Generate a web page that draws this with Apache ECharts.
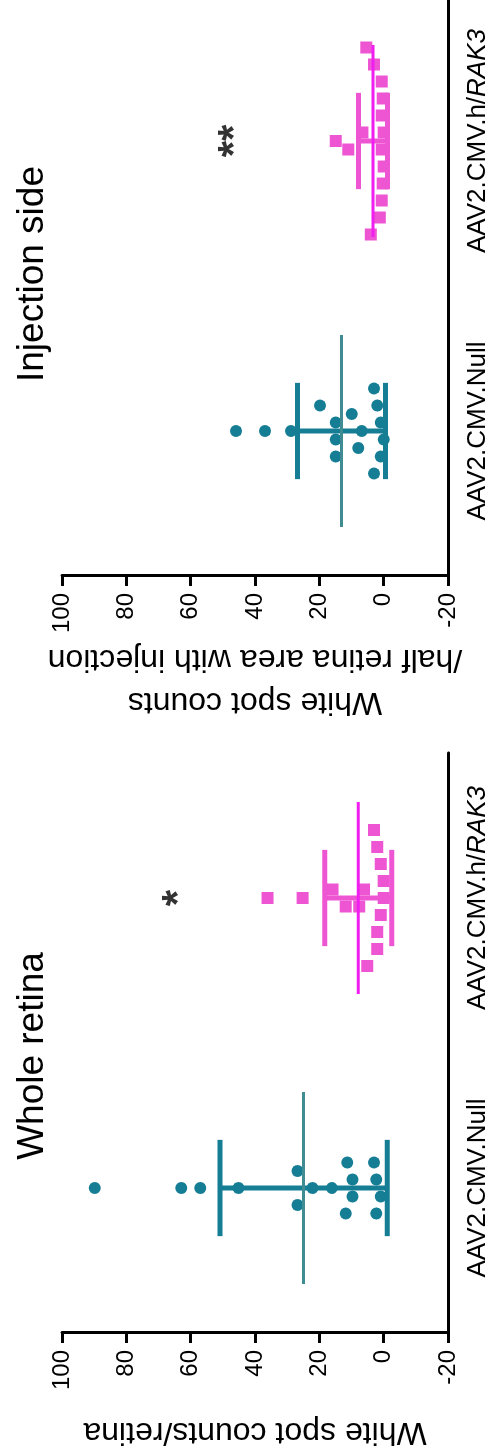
<!DOCTYPE html>
<html>
<head>
<meta charset="utf-8">
<script src="https://cdn.jsdelivr.net/npm/echarts/dist/echarts.min.js"></script>
<style>
html, body { margin: 0; padding: 0; background: #fff; }
#page { position: relative; width: 492px; height: 1456px; overflow: hidden; }
/* the figure is drawn the normal way and then turned a quarter left */
#chart { position: absolute; left: 0; top: 0; width: 1456px; height: 492px;
         transform-origin: 0 0; transform: translateY(1456px) rotate(-90deg); }
</style>
</head>
<body>
<div id="page"><div id="chart"></div></div>
<script>
var groups = ['AAV2.CMV.Null', 'AAV2.CMV.h/RAK3'];
var yTicks = [-20, 0, 20, 40, 60, 80, 100];
var panelTitles = ['Whole retina', 'Injection side'];
var yNames = ['White spot counts/retina', 'White spot counts\n/half retina area with injection'];

// white spot counts per eye (order inside a dot row = left to right)
var wholeNull = [89.8, 62.9, 57.0, 45.1, 26.8, 22.1, 26.8, 16.1, 11.8, 9.7, 9.7, 11.3, 2.3, 0.9, 2.3, 3.0];
var wholeRak3 = [36.1, 25.2, 11.8, 15.9, 7.6, 6.1, 5.1, 2.0, 2.0, 0.9, 0, 0, 0.9, 2.0, 3.0];
var injNull = [45.9, 36.9, 28.8, 14.9, 14.9, 14.9, 19.8, 7.9, 6.8, 9.9, 3.0, 0.9, 0, 0.9, 2.0, 3.0];
var injRak3 = [14.9, 11.0, 6.6, 4.0, 1.2, 0.6, 0.3, 0, 0.6, 0, 0.6, 0.3, 0.6, 3.0, 5.4];

// mean and SD per group
var wholeMean = [24.9, 7.9];
var wholeSd = [26.0, 10.4];
var injMean = [13.1, 3.3];
var injSd = [13.7, 4.5];

var starText = ['*', '**'];
var starValue = [66.9, 49.5];

var FONT = '"Liberation Sans", Arial, Helvetica, sans-serif';
var TEAL = '#157d94', TEAL_MEAN = '#3f8c92';
var PINK = '#ee55d2', PINK_MEAN = '#f01ef0';
var DOT_STEP = 17 / 290;   // dot spacing in category units
var ROW_SPAN = 5.5;        // values closer than this share a dot row

// simple column scatter: values in the same row are spread side by side
function swarm(values) {
  var idx = values.map(function (v, i) { return i; });
  idx.sort(function (a, b) { return values[a] - values[b] || a - b; });
  var rows = [], cur = null;
  idx.forEach(function (i) {
    if (!cur || values[i] - cur.start > ROW_SPAN) {
      cur = { start: values[i], members: [] };
      rows.push(cur);
    }
    cur.members.push(i);
  });
  var offs = [];
  rows.forEach(function (r) {
    r.members.sort(function (a, b) { return a - b; });
    var n = r.members.length;
    r.members.forEach(function (i, k) { offs[i] = (k - (n - 1) / 2) * DOT_STEP; });
  });
  return offs;
}

function summaryItem(params, api) {
  var c = api.value(0), m = api.value(1), s = api.value(2);
  var bw = api.size([1, 0])[0];
  var mid = api.coord([c, m]), hi = api.coord([c, m + s]), lo = api.coord([c, m - s]);
  var col = c === 0 ? TEAL : PINK;
  var mcol = c === 0 ? TEAL_MEAN : PINK_MEAN;
  var capW = bw * 0.166, meanW = bw * 0.331;
  return {
    type: 'group',
    children: [
      { type: 'line', shape: { x1: mid[0], y1: hi[1], x2: mid[0], y2: lo[1] }, style: { stroke: col, lineWidth: 5 } },
      { type: 'line', shape: { x1: mid[0] - capW, y1: hi[1], x2: mid[0] + capW, y2: hi[1] }, style: { stroke: col, lineWidth: 5 } },
      { type: 'line', shape: { x1: mid[0] - capW, y1: lo[1], x2: mid[0] + capW, y2: lo[1] }, style: { stroke: col, lineWidth: 5 } },
      { type: 'line', shape: { x1: mid[0] - meanW, y1: mid[1], x2: mid[0] + meanW, y2: mid[1] }, style: { stroke: mcol, lineWidth: 3 } }
    ]
  };
}

var panels = [
  { left: 123, titleX: 400, nameGap: 77, sets: [wholeNull, wholeRak3], mean: wholeMean, sd: wholeSd },
  { left: 880, titleX: 1182, nameGap: 61, sets: [injNull, injRak3], mean: injMean, sd: injSd }
];

var grid = [], xAxis = [], yAxis = [], series = [], graphic = [];

panels.forEach(function (p, k) {
  grid.push({ left: p.left, top: 62, width: 580, height: 386, outerBoundsMode: 'none' });

  xAxis.push({
    type: 'category', gridIndex: k, data: groups,
    axisLine: { onZero: false, lineStyle: { color: '#000', width: 3 } },
    axisTick: { alignWithLabel: true, length: 10, lineStyle: { color: '#000', width: 3 } },
    axisLabel: {
      interval: 0, hideOverlap: false,
      margin: 17, color: '#000', fontSize: 26, fontFamily: FONT,
      formatter: function (v) { return v.replace('RAK3', '{i|RAK3}'); },
      rich: { i: { fontStyle: 'italic', fontSize: 26, fontFamily: FONT, color: '#000' } }
    },
    splitLine: { show: false }
  });
  xAxis.push({ type: 'value', gridIndex: k, min: -0.5, max: 1.5, show: false });

  yAxis.push({
    type: 'value', gridIndex: k,
    min: yTicks[0], max: yTicks[yTicks.length - 1], interval: yTicks[1] - yTicks[0],
    name: yNames[k], nameLocation: 'middle', nameGap: p.nameGap, nameMoveOverlap: false,
    nameTextStyle: { color: '#000', fontSize: 32, fontFamily: FONT, lineHeight: 43 },
    axisLine: { show: true, onZero: false, lineStyle: { color: '#000', width: 3 } },
    axisTick: { show: true, length: 10, lineStyle: { color: '#000', width: 3 } },
    axisLabel: { margin: 17, color: '#000', fontSize: 24, fontFamily: FONT },
    splitLine: { show: false }
  });

  p.sets.forEach(function (vals, g) {
    var offs = swarm(vals);
    series.push({
      type: 'scatter', xAxisIndex: 2 * k + 1, yAxisIndex: k,
      symbol: g === 0 ? 'circle' : 'rect', symbolSize: 12,
      itemStyle: { color: g === 0 ? TEAL : PINK, opacity: 1 },
      data: vals.map(function (v, i) { return [g + offs[i], v]; }),
      z: 2
    });
  });

  series.push({
    type: 'custom', xAxisIndex: 2 * k + 1, yAxisIndex: k,
    renderItem: summaryItem,
    data: p.mean.map(function (m, g) { return [g, m, p.sd[g]]; }),
    z: 3
  });

  // the asterisk glyph sits high in its box, so push the label down a little
  series.push({
    type: 'scatter', xAxisIndex: 2 * k + 1, yAxisIndex: k,
    symbolSize: 0, silent: true,
    label: { show: true, position: 'inside', offset: [0, 11], formatter: starText[k], color: '#000',
             fontSize: 42, fontWeight: 'bold', fontFamily: FONT },
    data: [[1, starValue[k]]],
    z: 4
  });

  graphic.push({
    type: 'text', x: p.titleX, y: 14,
    style: { text: panelTitles[k], fill: '#000', fontSize: 37, fontFamily: FONT, align: 'center', verticalAlign: 'top' }
  });
});

var chart = echarts.init(document.getElementById('chart'));
chart.setOption({
  animation: false,
  backgroundColor: '#fff',
  grid: grid,
  xAxis: xAxis,
  yAxis: yAxis,
  series: series,
  graphic: graphic
});
</script>
</body>
</html>
